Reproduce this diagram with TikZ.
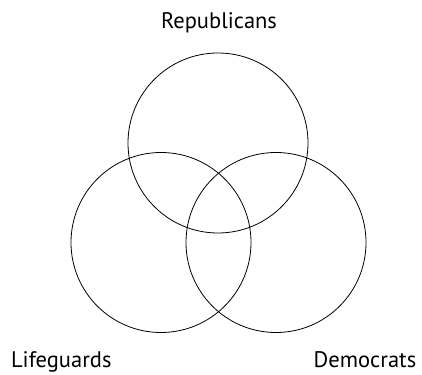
\documentclass[tikz,border=0pt]{standalone}
\usepackage{fontspec}
\setmainfont{PT Sans}
\usetikzlibrary{shapes,positioning}

\tikzset{
  set/.style={circle, draw, line width=0.8pt, minimum size=180pt, inner sep=0pt},
  setlabel/.style={anchor=base, inner sep=0pt, font=\fontsize{22.5}{27}\selectfont}
}

\begin{document}
\begin{tikzpicture}[x=1pt, y=1pt]
    % Fix the page size
    \useasboundingbox (0,0) rectangle (422,374);

    % Draw the three sets
    \node[set] (rep) at (218,231) {};
    \node[set] (lif) at (161,131.5) {};
    \node[set] (dem) at (276,131.5) {};

    % Draw the labels
    \node[setlabel] (replabel) at (219,345.7) {Republicans};
    \node[setlabel] (liflabel) at (61.3,6.8) {Lifeguards};
    \node[setlabel] (demlabel) at (365,6.8) {Democrats};

  \end{tikzpicture}
\end{document}
